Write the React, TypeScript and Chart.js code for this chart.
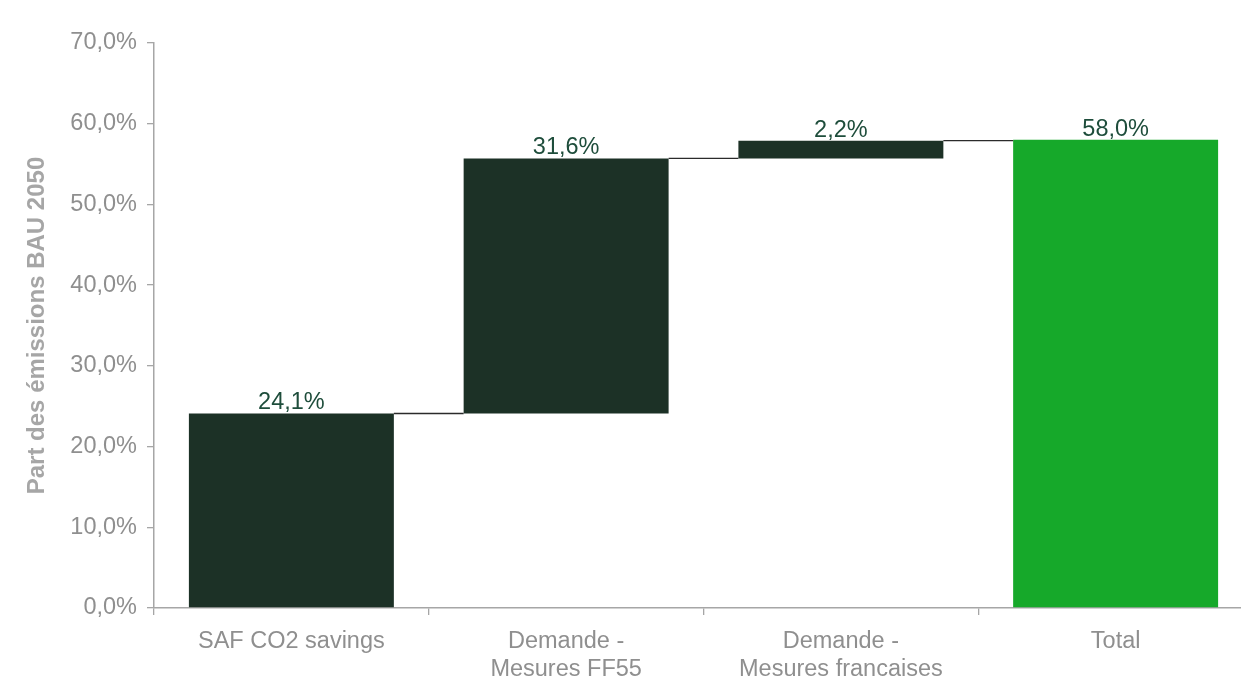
import React, { useEffect, useRef } from "react";
import { Chart, registerables } from "chart.js";

Chart.register(...registerables);

const categories: string[][] = [
  ["SAF CO2 savings"],
  ["Demande -", "Mesures FF55"],
  ["Demande -", "Mesures francaises"],
  ["Total"],
];
const stepValues: number[] = [24.1, 31.6, 2.2];
const totalValue = 58.0;
const yTicks = { min: 0, max: 70, step: 10 };

const STEP_COLOR = "#1c3126";
const TOTAL_COLOR = "#16a92a";
const LABEL_COLOR = "#1e4d3b";
const AXIS_COLOR = "#a6a6a6";
const TICK_TEXT = "#8f8f8f";
const FONT = "'Liberation Sans', Arial, sans-serif";

const fmt = (v: number) => v.toFixed(1).replace(".", ",") + "%";

export default function App() {
  const ref = useRef<HTMLCanvasElement | null>(null);

  useEffect(() => {
    if (!ref.current) return;
    const starts: number[] = [];
    const ends: number[] = [];
    let acc = 0;
    stepValues.forEach((v) => {
      starts.push(acc);
      acc += v;
      ends.push(acc);
    });
    const floating: [number, number][] = stepValues.map((_, i) => [starts[i], ends[i]]);
    floating.push([0, totalValue]);
    const labelsText = [...stepValues, totalValue].map(fmt);
    const connectorLevels = [...ends];

    const overlay = {
      id: "waterfallOverlay",
      afterDatasetsDraw(chart: any) {
        const ctx = chart.ctx;
        const meta = chart.getDatasetMeta(0);
        const yScale = chart.scales.y;
        ctx.save();
        // connectors
        ctx.strokeStyle = "#2b2b2b";
        ctx.lineWidth = 1.3;
        for (let i = 0; i < meta.data.length - 1; i++) {
          const a = meta.data[i];
          const b = meta.data[i + 1];
          const y = yScale.getPixelForValue(connectorLevels[i]);
          ctx.beginPath();
          ctx.moveTo(a.x + a.width / 2, y);
          ctx.lineTo(b.x - b.width / 2, y);
          ctx.stroke();
        }
        // value labels
        ctx.fillStyle = LABEL_COLOR;
        ctx.font = `23.5px ${FONT}`;
        ctx.textAlign = "center";
        ctx.textBaseline = "alphabetic";
        meta.data.forEach((el: any, i: number) => {
          const top = Math.min(el.y, el.base);
          ctx.fillText(labelsText[i], el.x, top - 4);
        });
        ctx.restore();
      },
    };

    const chart = new Chart(ref.current, {
      type: "bar",
      data: {
        labels: categories,
        datasets: [
          {
            data: floating as any,
            backgroundColor: [STEP_COLOR, STEP_COLOR, STEP_COLOR, TOTAL_COLOR],
            borderWidth: 0,
            barPercentage: 0.746,
            categoryPercentage: 1,
          },
        ],
      },
      options: {
        responsive: false,
        animation: false,
        layout: { padding: { top: 43, right: 7, bottom: 0, left: 0 } },
        plugins: {
          legend: { display: false },
          tooltip: { enabled: false },
        },
        scales: {
          x: {
            grid: {
              display: true,
              drawOnChartArea: false,
              offset: true,
              tickLength: 7,
              color: AXIS_COLOR,
              lineWidth: 1.3,
            },
            border: { color: AXIS_COLOR, width: 1.5 },
            ticks: {
              color: TICK_TEXT,
              font: { size: 23.5, family: FONT, lineHeight: 1.2 },
              padding: 12,
              maxRotation: 0,
              autoSkip: false,
            },
            afterFit: (s: any) => {
              s.height = 72;
            },
          },
          y: {
            min: yTicks.min,
            max: yTicks.max,
            grid: {
              display: true,
              drawOnChartArea: false,
              tickLength: 7,
              color: AXIS_COLOR,
              lineWidth: 1.3,
            },
            border: { color: AXIS_COLOR, width: 1.5 },
            ticks: {
              stepSize: yTicks.step,
              color: TICK_TEXT,
              font: { size: 23.5, family: FONT },
              padding: 10,
              callback: (v: any) => fmt(Number(v)),
            },
            title: {
              display: true,
              text: "Part des émissions BAU 2050",
              color: AXIS_COLOR,
              font: { size: 24, weight: "bold", family: FONT, lineHeight: 1.2 },
              padding: { top: 23, bottom: 0 },
            },
            afterFit: (s: any) => {
              s.width = 154;
            },
          },
        },
      },
      plugins: [overlay],
    });
    return () => chart.destroy();
  }, []);

  return (
    <div
      style={{
        position: "fixed",
        left: 0,
        top: 0,
        width: 1241,
        height: 680,
        overflow: "hidden",
        background: "#fff",
      }}
    >
      <canvas ref={ref} width={1260} height={680} style={{ width: 1260, height: 680, display: "block" }} />
    </div>
  );
}
